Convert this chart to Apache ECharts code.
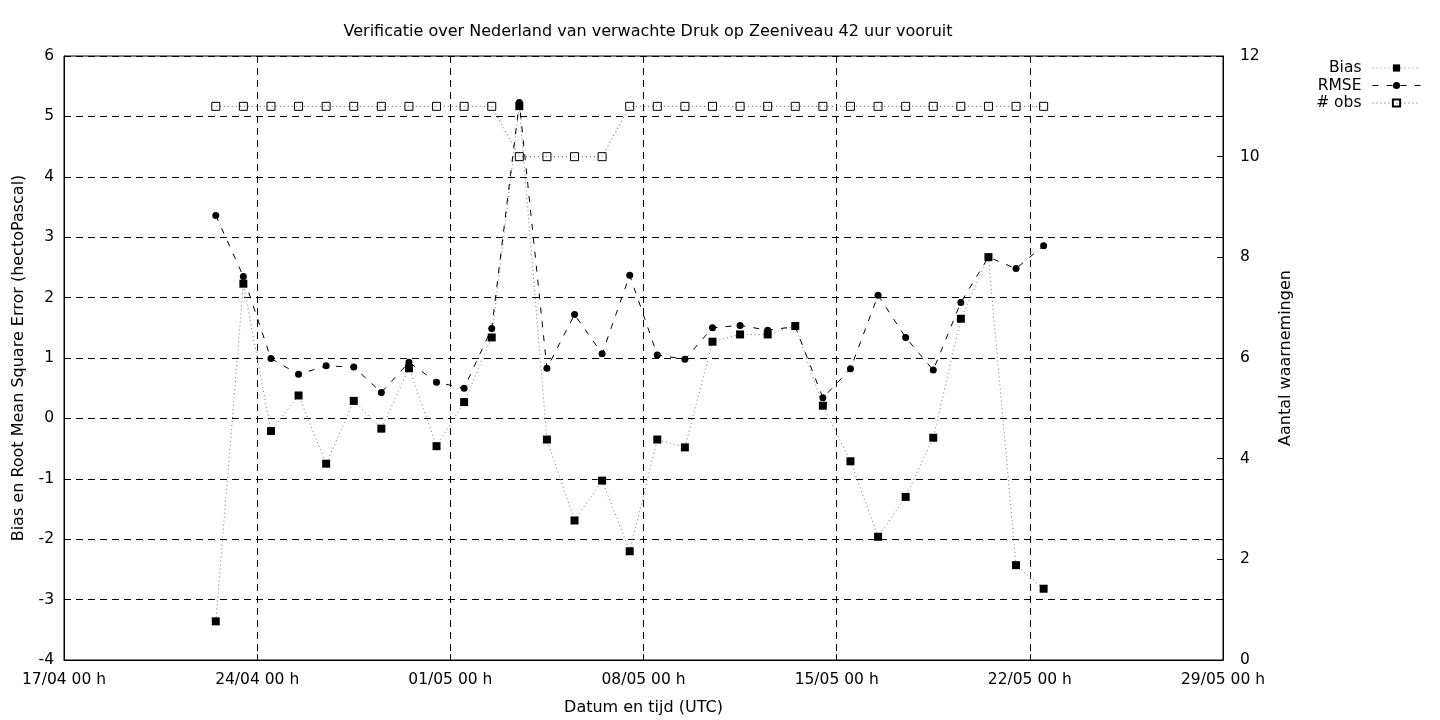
<!DOCTYPE html>
<html>
<head>
<meta charset="utf-8">
<script src="https://cdn.jsdelivr.net/npm/echarts@6/dist/echarts.min.js"></script>
<style>html,body{margin:0;padding:0;background:#fff}#c{width:1440px;height:720px}</style>
</head>
<body>
<div id="c"></div>
<script>
// Valid times (UTC), one per day at 12 h
const dates = [
  '2014-04-22','2014-04-23','2014-04-24','2014-04-25','2014-04-26','2014-04-27','2014-04-28',
  '2014-04-29','2014-04-30','2014-05-01','2014-05-02','2014-05-03','2014-05-04','2014-05-05',
  '2014-05-06','2014-05-07','2014-05-08','2014-05-09','2014-05-10','2014-05-11','2014-05-12',
  '2014-05-13','2014-05-14','2014-05-15','2014-05-16','2014-05-17','2014-05-18','2014-05-19',
  '2014-05-20','2014-05-21','2014-05-22'
];
const bias = [-3.36, 2.23, -0.21, 0.38, -0.75, 0.29, -0.17, 0.83, -0.46, 0.27, 1.34, 5.17, -0.35, -1.69,
  -1.03, -2.20, -0.35, -0.48, 1.27, 1.39, 1.39, 1.53, 0.21, -0.71, -1.96, -1.30, -0.32, 1.65,
  2.67, -2.43, -2.82];
const rmse = [3.36, 2.35, 0.99, 0.73, 0.87, 0.85, 0.43, 0.93, 0.60, 0.50, 1.49, 5.23, 0.83, 1.72,
  1.07, 2.37, 1.05, 0.98, 1.50, 1.54, 1.46, 1.52, 0.34, 0.82, 2.04, 1.34, 0.80, 1.92,
  2.67, 2.48, 2.86];
const nobs = [11, 11, 11, 11, 11, 11, 11, 11, 11, 11, 11, 10, 10, 10,
  10, 11, 11, 11, 11, 11, 11, 11, 11, 11, 11, 11, 11, 11,
  11, 11, 11];
const leftTicks = [-4, 6, 1];
const rightTicks = [0, 12, 2];
const xStart = '2014-04-17', xEnd = '2014-05-29';

const DAY = 86400000;
function ts(d, h) { const p = d.split('-').map(Number); return Date.UTC(p[0], p[1]-1, p[2], h || 0); }
const xs = dates.map(d => ts(d, 12));
const pair = arr => arr.map((v, i) => [xs[i], v]);
const pad = n => (n < 10 ? '0' : '') + n;
const font = 'DejaVu Sans';
const dash = [7, 5];
const FS = 15.5;

const chart = echarts.init(document.getElementById('c'));
chart.setOption({
  animation: false,
  backgroundColor: '#fff',
  textStyle: { fontFamily: font },
  title: {
    text: 'Verificatie over Nederland van verwachte Druk op Zeeniveau 42 uur vooruit',
    left: 643, top: 19, textAlign: 'center',
    textStyle: { fontFamily: font, fontSize: 16, fontWeight: 'normal', color: '#000' }
  },
  grid: { left: 64, right: 217, top: 56, bottom: 60, show: true, borderColor: '#000', borderWidth: 1,
          backgroundColor: 'transparent', outerBoundsMode: 'none', containLabel: false },
  legend: {
    orient: 'vertical', right: 14, top: 55, align: 'right',
    itemWidth: 48, itemHeight: 9, itemGap: 1.5,
    lineStyle: { width: 1 },
    textStyle: { fontFamily: font, fontSize: FS, color: '#000', lineHeight: 14, width: 70, align: 'right', padding: [0, 6, 0, 0] },
    data: ['Bias', 'RMSE', '# obs']
  },
  xAxis: {
    type: 'value', min: ts(xStart), max: ts(xEnd), interval: 7 * DAY,
    name: 'Datum en tijd (UTC)', nameLocation: 'middle', nameGap: 40,
    nameTextStyle: { fontFamily: font, fontSize: 16, color: '#000' },
    axisLine: { show: true, onZero: false, lineStyle: { color: '#000', width: 1 } },
    axisTick: { show: true, inside: true, length: 6, lineStyle: { color: '#000' } },
    axisLabel: {
      fontFamily: font, fontSize: FS, color: '#000', margin: 12,
      formatter: v => { const d = new Date(v); return pad(d.getUTCDate()) + '/' + pad(d.getUTCMonth() + 1) + ' ' + pad(d.getUTCHours()) + ' h'; }
    },
    splitLine: { show: true, lineStyle: { color: '#000', type: dash, width: 1 } }
  },
  yAxis: [
    {
      type: 'value', min: leftTicks[0], max: leftTicks[1], interval: leftTicks[2],
      name: 'Bias en Root Mean Square Error (hectoPascal)', nameLocation: 'middle', nameGap: 37,
      nameTextStyle: { fontFamily: font, fontSize: 16, color: '#000' },
      axisLine: { show: true, onZero: false, lineStyle: { color: '#000' } },
      axisTick: { show: true, inside: true, length: 6, lineStyle: { color: '#000' } },
      axisLabel: { fontFamily: font, fontSize: FS, color: '#000', margin: 10 },
      splitLine: { show: true, lineStyle: { color: '#000', type: dash, width: 1 } }
    },
    {
      type: 'value', min: rightTicks[0], max: rightTicks[1], interval: rightTicks[2], position: 'right',
      name: 'Aantal waarnemingen', nameLocation: 'middle', nameGap: 55, nameRotate: 90,
      nameTextStyle: { fontFamily: font, fontSize: 16, color: '#000' },
      axisLine: { show: true, onZero: false, lineStyle: { color: '#000' } },
      axisTick: { show: true, inside: true, length: 6, lineStyle: { color: '#000' } },
      axisLabel: { fontFamily: font, fontSize: FS, color: '#000', margin: 17 },
      splitLine: { show: false }
    }
  ],
  series: [
    {
      name: 'Bias', type: 'line', yAxisIndex: 0, data: pair(bias),
      symbol: 'rect', symbolSize: 8,
      itemStyle: { color: '#000' },
      lineStyle: { color: '#777', width: 1, type: [1, 3] }
    },
    {
      name: 'RMSE', type: 'line', yAxisIndex: 0, data: pair(rmse),
      symbol: 'circle', symbolSize: 7,
      itemStyle: { color: '#000' },
      lineStyle: { color: '#000', width: 1, type: [6, 8] }
    },
    {
      name: '# obs', type: 'line', yAxisIndex: 1, data: pair(nobs),
      symbol: 'rect', symbolSize: 8,
      itemStyle: { color: 'rgba(0,0,0,0)', borderColor: '#000', borderWidth: 1 },
      lineStyle: { color: '#555', width: 1, type: [1, 3] }
    }
  ]
});
</script>
</body>
</html>
